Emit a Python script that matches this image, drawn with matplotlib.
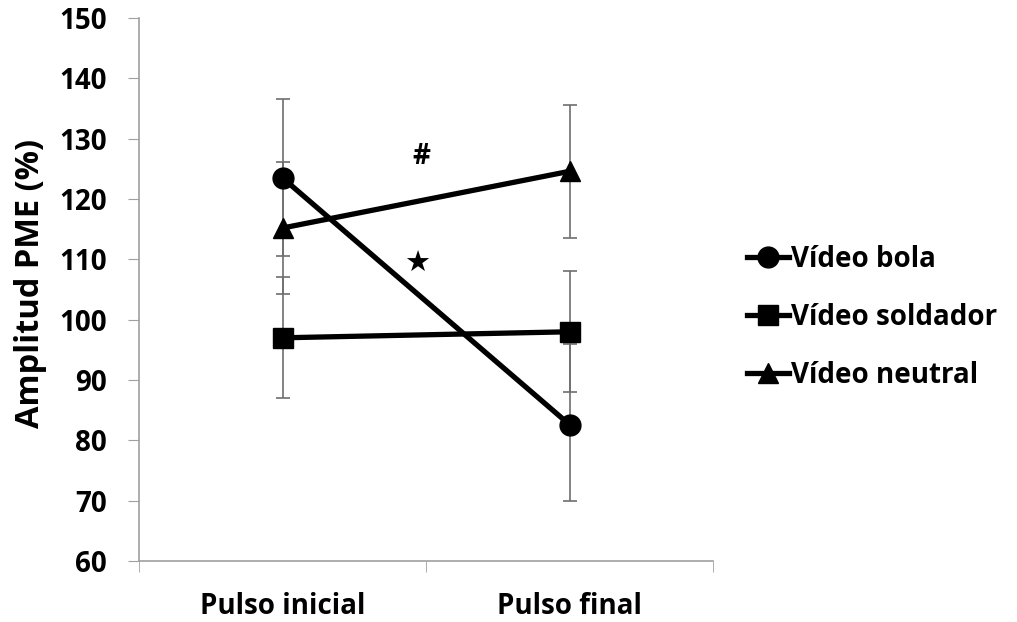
import matplotlib.pyplot as plt

plt.rcParams['font.family'] = ['Open Sans', 'DejaVu Sans']
plt.rcParams['font.weight'] = 'bold'

categories = ['Pulso inicial', 'Pulso final']
series = ['Vídeo bola', 'Vídeo soldador', 'Vídeo neutral']
markers = ['o', 's', '^']

bola = [123.5, 82.6]
soldador = [97.0, 98.0]
neutral = [115.2, 124.6]

bola_err_low = [13.0, 12.6]
bola_err_high = [13.0, 13.3]
soldador_err = [10.0, 10.0]
neutral_err = [11.0, 11.0]

fs = 20

fig = plt.figure(figsize=(10.17, 6.22), dpi=100)
ax = fig.add_axes([0.1367, 0.098, 0.5645, 0.873])

x = [0, 1]
vals = [bola, soldador, neutral]
errs = [[bola_err_low, bola_err_high], soldador_err, neutral_err]

# error bars first so the markers sit on top
for v, e in zip(vals, errs):
    ax.errorbar(x, v, yerr=e, fmt='none', ecolor='#6e6e6e', elinewidth=1.2,
                capsize=5, capthick=1.2, zorder=2)

for v, m, lab in zip(vals, markers, series):
    ms = 15 if m != 's' else 14
    ax.plot(x, v, color='black', lw=3.8, marker=m, markersize=ms,
            label=lab, zorder=3)

ax.text(0.485, 127.0, '#', fontsize=fs, ha='center', va='center', fontweight='bold')
ax.text(0.47, 109.2, '★', fontsize=21, ha='center', va='center',
        family=['DejaVu Sans'])

ax.set_xlim(-0.5, 1.5)
ax.set_ylim(60, 150)
ax.set_yticks(range(60, 151, 10))
ax.set_xticks(x)
ax.set_xticklabels(categories)
ax.set_xticks([-0.5, 0.5, 1.5], minor=True)
ax.tick_params(axis='x', which='major', length=0, pad=22, labelsize=fs)
ax.tick_params(axis='x', which='minor', length=8, color='#a0a0a0', direction='out')
ax.tick_params(axis='y', length=8, color='#a0a0a0', direction='out', pad=15, labelsize=fs)

for s in ['top', 'right']:
    ax.spines[s].set_visible(False)
for s in ['left', 'bottom']:
    ax.spines[s].set_color('#a0a0a0')
    ax.spines[s].set_linewidth(1.2)

fig.text(31 / 1017, 1 - 283 / 622, 'Amplitud PME (%)', fontsize=23.5,
         fontweight='bold', rotation=90, ha='center', va='center')

fig.legend(loc='center left', bbox_to_anchor=(0.735, 0.49), frameon=False,
           fontsize=fs, handlelength=1.5, handletextpad=0.05, labelspacing=1.05,
           borderaxespad=0, borderpad=0)

fig.savefig('out.png', dpi=100)
